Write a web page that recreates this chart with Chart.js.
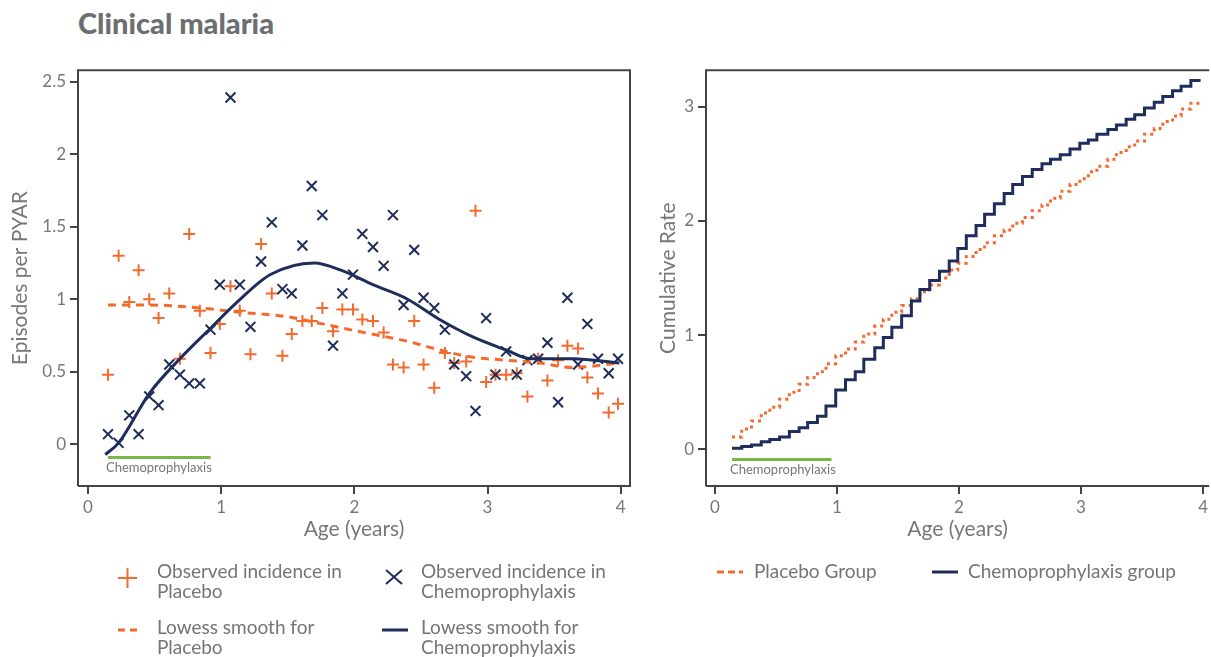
<!DOCTYPE html>
<html>
<head>
<meta charset="utf-8">
<script src="https://cdn.jsdelivr.net/npm/chart.js@4.4.1/dist/chart.umd.min.js"></script>
<style>
  body { margin: 0; background: #fff; font-family: Lato, sans-serif; width: 1211px; height: 657px; overflow: hidden; position: relative; }
  #title { position: absolute; left: 78px; top: 5px; font-weight: 900; font-size: 29px; color: #6d6e71; }
  #leftBox { position: absolute; left: 0; top: 56px; width: 645px; height: 490px; }
  #rightBox { position: absolute; left: 640px; top: 56px; width: 571px; height: 490px; }
  #marks { position: absolute; left: 0; top: 0; }
  .txt { position: absolute; font-size: 19px; line-height: 20px; color: #757575; }
</style>
</head>
<body>
<div id="title">Clinical malaria</div>
<div id="leftBox"><canvas id="leftChart" width="645" height="490"></canvas></div>
<div id="rightBox"><canvas id="rightChart" width="571" height="490"></canvas></div>

<svg id="marks" width="1211" height="657">
  <g stroke="#f26a2e" stroke-width="2">
    <line x1="118" y1="578" x2="137" y2="578"/>
    <line x1="127.5" y1="568" x2="127.5" y2="588"/>
  </g>
  <g stroke="#1f2d5c" stroke-width="2">
    <line x1="386" y1="570" x2="402" y2="584"/>
    <line x1="402" y1="570" x2="386" y2="584"/>
  </g>
  <line x1="118" y1="630" x2="137" y2="630" stroke="#f26a2e" stroke-width="3" stroke-dasharray="7,5"/>
  <line x1="382" y1="630" x2="408" y2="630" stroke="#1f2d5c" stroke-width="3"/>
  <line x1="717" y1="572" x2="743" y2="572" stroke="#f26a2e" stroke-width="3" stroke-dasharray="7,4"/>
  <line x1="932" y1="572" x2="958" y2="572" stroke="#1f2d5c" stroke-width="3"/>
</svg>
<div class="txt" style="left:157px; top:561px;">Observed incidence in<br>Placebo</div>
<div class="txt" style="left:421px; top:561px;">Observed incidence in<br>Chemoprophylaxis</div>
<div class="txt" style="left:157px; top:617px;">Lowess smooth for<br>Placebo</div>
<div class="txt" style="left:421px; top:617px;">Lowess smooth for<br>Chemoprophylaxis</div>
<div class="txt" style="left:754px; top:561px;">Placebo Group</div>
<div class="txt" style="left:968px; top:561px;">Chemoprophylaxis group</div>

<script>
// DATA

const visitAge = [0.15, 0.23, 0.31, 0.38, 0.46, 0.53, 0.61, 0.69, 0.76, 0.84,
  0.92, 0.99, 1.07, 1.14, 1.22, 1.30, 1.38, 1.46, 1.53, 1.61,
  1.68, 1.76, 1.84, 1.91, 1.99, 2.06, 2.14, 2.22, 2.29, 2.37,
  2.45, 2.52, 2.60, 2.68, 2.75, 2.84, 2.91, 2.99, 3.06, 3.14,
  3.22, 3.30, 3.38, 3.45, 3.53, 3.60, 3.68, 3.75, 3.83, 3.91, 3.98];

const placeboIncidence = [0.48, 1.30, 0.98, 1.20, 1.00, 0.87, 1.04, 0.59, 1.45, 0.92,
  0.63, 0.83, 1.09, 0.92, 0.62, 1.38, 1.04, 0.61, 0.76, 0.85,
  0.85, 0.94, 0.78, 0.93, 0.93, 0.86, 0.85, 0.77, 0.55, 0.53,
  0.85, 0.55, 0.39, 0.63, 0.56, 0.57, 1.61, 0.43, 0.48, 0.48,
  0.49, 0.33, 0.59, 0.44, 0.58, 0.68, 0.66, 0.46, 0.35, 0.22, 0.28];

const chemoIncidence = [0.07, 0.01, 0.20, 0.07, 0.33, 0.27, 0.55, 0.48, 0.42, 0.42,
  0.79, 1.10, 2.39, 1.10, 0.81, 1.26, 1.53, 1.07, 1.04, 1.37,
  1.78, 1.58, 0.68, 1.04, 1.17, 1.45, 1.36, 1.23, 1.58, 0.96,
  1.34, 1.01, 0.94, 0.79, 0.55, 0.47, 0.23, 0.87, 0.48, 0.64,
  0.48, 0.58, 0.59, 0.70, 0.29, 1.01, 0.55, 0.83, 0.59, 0.49, 0.59];

const lowessPlaceboAge = [0.15, 0.46, 0.84, 1.14, 1.49, 1.76, 2.02, 2.40, 2.64, 2.89, 3.14, 3.39, 3.64, 3.99];
const lowessPlacebo = [0.96, 0.96, 0.94, 0.91, 0.88, 0.83, 0.78, 0.71, 0.65, 0.60, 0.58, 0.56, 0.53, 0.56];

const lowessChemoAge = [0.13, 0.23, 0.46, 0.69, 0.92, 1.12, 1.37, 1.70, 1.90, 2.14, 2.40, 2.64, 2.89, 3.14, 3.32, 3.64, 3.99];
const lowessChemo = [-0.07, 0.01, 0.35, 0.59, 0.80, 0.98, 1.17, 1.25, 1.20, 1.10, 1.00, 0.86, 0.74, 0.65, 0.59, 0.59, 0.56];

const stepAge = [0.14, 0.22, 0.30, 0.38, 0.45, 0.53, 0.61, 0.69, 0.76, 0.84,
  0.91, 0.99, 1.07, 1.15, 1.22, 1.31, 1.38, 1.45, 1.53, 1.61,
  1.68, 1.76, 1.84, 1.92, 1.99, 2.06, 2.14, 2.21, 2.29, 2.37,
  2.44, 2.52, 2.60, 2.68, 2.75, 2.83, 2.91, 2.99, 3.06, 3.13,
  3.22, 3.29, 3.37, 3.44, 3.52, 3.60, 3.67, 3.75, 3.82, 3.90, 3.98];

const cumPlacebo = [0.11, 0.18, 0.25, 0.32, 0.37, 0.44, 0.50, 0.57, 0.63, 0.68,
  0.75, 0.82, 0.88, 0.94, 1.01, 1.08, 1.14, 1.20, 1.26, 1.32,
  1.38, 1.44, 1.50, 1.57, 1.63, 1.69, 1.75, 1.81, 1.87, 1.92,
  1.98, 2.03, 2.09, 2.14, 2.20, 2.26, 2.32, 2.37, 2.43, 2.48,
  2.54, 2.60, 2.65, 2.70, 2.76, 2.81, 2.87, 2.92, 2.98, 3.03, 3.03];

const cumChemo = [0.01, 0.026, 0.04, 0.067, 0.087, 0.11, 0.157, 0.19, 0.235, 0.29,
  0.38, 0.52, 0.61, 0.68, 0.79, 0.89, 0.98, 1.07, 1.17, 1.30,
  1.40, 1.48, 1.56, 1.65, 1.76, 1.87, 1.96, 2.06, 2.15, 2.24,
  2.32, 2.39, 2.45, 2.50, 2.54, 2.58, 2.63, 2.68, 2.71, 2.76,
  2.80, 2.84, 2.89, 2.93, 2.99, 3.04, 3.09, 3.14, 3.18, 3.23, 3.23];

const chemoPeriod = [0.15, 0.92];
const chemoPeriodRight = [0.14, 0.955];


// COLOURS / HELPERS

const ORANGE = '#f26a2e';
const NAVY = '#1f2d5c';
const GREEN = '#7ab648';
const TEXT = '#777777';
const FONT = 'Lato';

const pts = (xs, ys) => xs.map((x, i) => ({ x: x, y: ys[i] }));

const framePlugin = {
    id: 'frame',
    afterDatasetsDraw(chart, args, opts) {
        const { ctx, chartArea: a } = chart;
        ctx.save();
        ctx.strokeStyle = '#444';
        ctx.lineWidth = 2;
        ctx.beginPath();
        ctx.moveTo(a.left, a.bottom);
        ctx.lineTo(a.left, a.top);
        ctx.lineTo(a.right, a.top);
        if (opts.right) ctx.lineTo(a.right, a.bottom); else ctx.moveTo(a.right, a.bottom);
        ctx.lineTo(a.left, a.bottom);
        ctx.stroke();
        ctx.restore();
    }
};

const periodLabelPlugin = {
    id: 'periodLabel',
    afterDatasetsDraw(chart, args, opts) {
        const { ctx, scales } = chart;
        const x = scales.x.getPixelForValue(opts.x);
        const y = scales.y.getPixelForValue(opts.y);
        ctx.save();
        ctx.font = '13px ' + FONT;
        ctx.fillStyle = TEXT;
        ctx.textBaseline = 'top';
        ctx.fillText('Chemoprophylaxis', x - 2, y + 4);
        ctx.restore();
    }
};

function xAxis(min, max) {
    return {
        type: 'linear', min: min, max: max,
        afterFit(s) { s.height = 60; },
        ticks: { stepSize: 1, includeBounds: false, color: TEXT, font: { size: 17, family: FONT }, padding: 3 },
        grid: { drawOnChartArea: false, tickLength: 8, tickColor: '#444', lineWidth: 2 },
        border: { display: false },
        title: { display: true, text: 'Age (years)', color: TEXT, font: { size: 21, family: FONT }, padding: { top: 2, bottom: 4 } }
    };
}

function yAxis(min, max, step, width, label, titlePad) {
    return {
        type: 'linear', min: min, max: max,
        afterFit(s) { s.width = width; },
        ticks: {
            stepSize: step, includeBounds: false, color: TEXT, font: { size: 17, family: FONT }, padding: 4,
            callback: v => String(Math.round(v * 10) / 10)
        },
        grid: { drawOnChartArea: false, tickLength: 8, tickColor: '#444', lineWidth: 2 },
        border: { display: false },
        title: { display: true, text: label, color: TEXT, font: { size: 21, family: FONT }, padding: { top: titlePad, bottom: 0 } }
    };
}


// LEFT CHART

new Chart(document.getElementById('leftChart'), {
    type: 'scatter',
    data: {
        datasets: [
            {
                data: pts(lowessChemoAge, lowessChemo),
                showLine: true, borderColor: NAVY, borderWidth: 3,
                pointRadius: 0, cubicInterpolationMode: 'monotone'
            },
            {
                data: pts(lowessPlaceboAge, lowessPlacebo),
                showLine: true, borderColor: ORANGE, borderWidth: 3, borderDash: [8, 6],
                pointRadius: 0, cubicInterpolationMode: 'monotone'
            },
            {
                data: pts(visitAge, chemoIncidence),
                pointStyle: 'crossRot', pointRadius: 7, borderColor: NAVY, borderWidth: 2
            },
            {
                data: pts(visitAge, placeboIncidence),
                pointStyle: 'cross', pointRadius: 6, borderColor: ORANGE, borderWidth: 2
            },
            {
                data: pts(chemoPeriod, [-0.09, -0.09]),
                showLine: true, borderColor: GREEN, borderWidth: 3, pointRadius: 0
            }
        ]
    },
    options: {
        responsive: false,
        animation: false,
        layout: { padding: { top: 10, right: 15, left: 0, bottom: 0 } },
        scales: {
            x: xAxis(-0.075, 4.07),
            y: yAxis(-0.287, 2.578, 0.5, 78, 'Episodes per PYAR', 8)
        },
        plugins: {
            legend: { display: false },
            tooltip: { enabled: false },
            frame: { right: true },
            periodLabel: { x: chemoPeriod[0], y: -0.09 }
        }
    },
    plugins: [framePlugin, periodLabelPlugin]
});


// RIGHT CHART

new Chart(document.getElementById('rightChart'), {
    type: 'scatter',
    data: {
        datasets: [
            {
                data: pts(stepAge, cumChemo),
                showLine: true, stepped: 'before', borderColor: NAVY, borderWidth: 3, pointRadius: 0
            },
            {
                data: pts(stepAge, cumPlacebo),
                showLine: true, stepped: 'before', borderColor: ORANGE, borderWidth: 3, borderDash: [3, 4],
                pointRadius: 0
            },
            {
                data: pts(chemoPeriodRight, [-0.087, -0.087]),
                showLine: true, borderColor: GREEN, borderWidth: 3, pointRadius: 0
            }
        ]
    },
    options: {
        responsive: false,
        animation: false,
        layout: { padding: { top: 10, right: 0, left: 0, bottom: 0 } },
        scales: {
            x: xAxis(-0.073, 4.05),
            y: yAxis(-0.32, 3.32, 1, 66, 'Cumulative Rate', 16)
        },
        plugins: {
            legend: { display: false },
            tooltip: { enabled: false },
            frame: { right: false },
            periodLabel: { x: chemoPeriodRight[0], y: -0.087 }
        }
    },
    plugins: [framePlugin, periodLabelPlugin]
});
</script>
</body>
</html>
